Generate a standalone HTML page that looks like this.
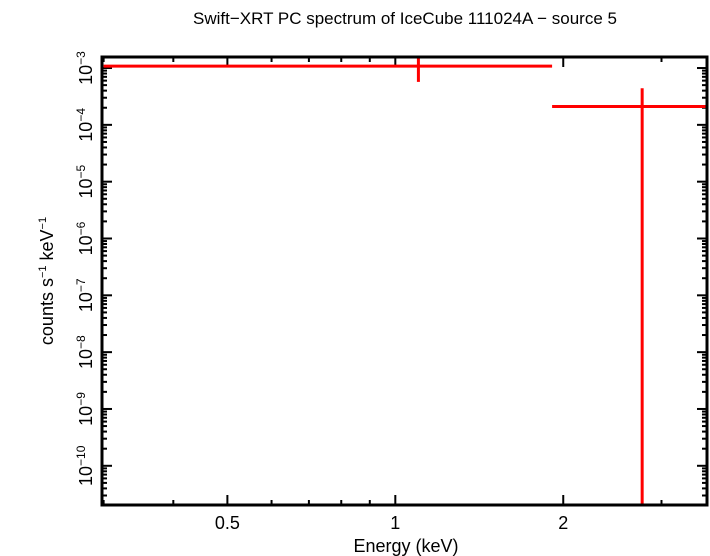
<!DOCTYPE html>
<html><head><meta charset="utf-8"><style>
body{margin:0;background:#fff}
svg{display:block;font-family:"Liberation Sans",sans-serif}
</style></head><body>
<svg id="c" width="710" height="556"></svg>
<script>
const binLo=[0.3,1.91];
const binHi=[1.91,3.62];
const binCenter=[1.10,2.77];
const rate=[1.08e-3,2.1e-4];
const rateHi=[2e-3,4.4e-4];
const rateLo=[5.7e-4,1e-12];
const xTickVals=[0.5,1,2];
const xTickLabels=["0.5","1","2"];
const yExps=[-3,-4,-5,-6,-7,-8,-9,-10];

const L=102,R=707,T=57,B=505;
const X0=Math.log10(0.298),X1=Math.log10(3.62);
const Y0=-10.69,Y1=-2.806;
const xs=v=>L+(Math.log10(v)-X0)/(X1-X0)*(R-L);
const ys=v=>{let y=B-(Math.log10(v)-Y0)/(Y1-Y0)*(B-T);return Math.max(T,Math.min(B,y));};
const svg=document.getElementById('c');
const NS='http://www.w3.org/2000/svg';
function mk(t,a,p){const e=document.createElementNS(NS,t);for(const k in a)e.setAttribute(k,a[k]);(p||svg).appendChild(e);return e;}
function line(x1,y1,x2,y2,c,w,n){const e=mk('line',{x1,y1,x2,y2,stroke:c,'stroke-width':w});return e;}

const t=mk('text',{x:405,y:24,'text-anchor':'middle','font-size':17});t.textContent='Swift\u2212XRT PC spectrum of IceCube 111024A \u2212 source 5';

const xl=mk('text',{x:406,y:552,'text-anchor':'middle','font-size':18});xl.textContent='Energy (keV)';

const yl=mk('text',{x:0,y:0,'text-anchor':'middle','font-size':18,transform:'translate(53,281) rotate(-90)'});
yl.innerHTML='counts s<tspan font-size="11" dy="-7">\u22121</tspan><tspan dy="7"> keV</tspan><tspan font-size="11" dy="-7">\u22121</tspan>';


for(let d=0.3;d<=3.6;d+=0.1){
  const v=Math.round(d*10)/10; if(v>1&&Math.abs(v-Math.round(v))>1e-6)continue;
  const x=xs(v),maj=xTickVals.includes(v),len=maj?10:5;
  line(x,B,x,B-len,'#000',2,'x-tick');line(x,T,x,T+len,'#000',2,'x-tick-top');
}
xTickVals.forEach((v,i)=>{const e=mk('text',{x:xs(v),y:529,'text-anchor':'middle','font-size':18});e.textContent=xTickLabels[i];
});
for(let e=-11;e<=-3;e++)for(let m=1;m<10;m++){
  const v=m*Math.pow(10,e),lv=Math.log10(v);if(lv<Y0||lv>Y1)continue;
  const y=ys(v),len=m==1?10:5;
  line(L,y,L+len,y,'#000',2,'y-tick');line(R,y,R-len,y,'#000',2,'y-tick-right');
}
yExps.forEach(ex=>{const y=ys(Math.pow(10,ex));const e=mk('text',{x:0,y:0,'font-size':18,'text-anchor':'middle',transform:`translate(92,${y}) rotate(-90)`});
e.innerHTML='10<tspan font-size="12" dy="-7">\u2212'+(-ex)+'</tspan>';
});

rate.forEach((r,i)=>{
  line(xs(binLo[i]),ys(r),xs(binHi[i]),ys(r),'#f00',3,'data-bin-horizontal');
  line(xs(binCenter[i]),ys(rateHi[i]),xs(binCenter[i]),ys(rateLo[i]),'#f00',3,'data-bin-error');
});
const f=mk('rect',{x:L,y:T,width:R-L,height:B-T,fill:'none',stroke:'#000','stroke-width':3});

</script>
</body></html>
